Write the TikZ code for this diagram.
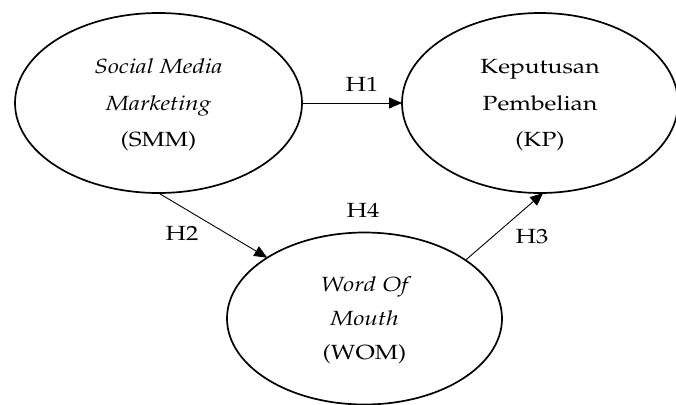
\documentclass[tikz,border=0pt]{standalone}
\usepackage[T1]{fontenc}
\usepackage{mathpazo}
\usepackage{graphicx}
\usetikzlibrary{shapes.geometric,arrows.meta}
\newcommand\wtx[1]{\scalebox{1.2}[1]{#1}}
\newcommand\ltx[1]{\scalebox{1.2}[1]{\begin{tabular}{@{}c@{}}#1\end{tabular}}}
\begin{document}
\begin{tikzpicture}[x=1pt,y=-1pt,
  every node/.style={font=\fontsize{20.5}{36.5}\selectfont},
  ell/.style={draw, ellipse, line width=1.7pt, inner sep=0pt, outer sep=0pt},
  conn/.style={line width=0.9pt, -{Triangle[length=13pt,width=11pt]}},
  lbl/.style={anchor=base, inner sep=0pt}]
\useasboundingbox (0,0) rectangle (676,404);
\node[ell, minimum width=287pt, minimum height=180pt] (SMM) at (158.5,103)
  {\ltx{\itshape Social Media\\ \itshape Marketing\\ (SMM)}};
\node[ell, minimum width=276pt, minimum height=180pt] (KP) at (540,103)
  {\ltx{Keputusan\\ Pembelian\\ (KP)}};
\node[ell, minimum width=275pt, minimum height=172pt,
  font=\fontsize{20.5}{34}\selectfont] (WOM) at (364.5,318.5)
  {\ltx{\itshape Word Of\\ \itshape Mouth\\ (WOM)}};
\draw[conn] (SMM.south) -- (WOM.148);
\draw[conn] (WOM.30) -- (KP.-88);
\draw[conn] (SMM.east) -- (KP.west);
\node[lbl] (h1) at (362,91) {\wtx{H1}};
\node[lbl] (h2) at (182,240) {\wtx{H2}};
\node[lbl] (h3) at (532,243) {\wtx{H3}};
\node[lbl] (h4) at (363,217) {\wtx{H4}};
\end{tikzpicture}
\end{document}
